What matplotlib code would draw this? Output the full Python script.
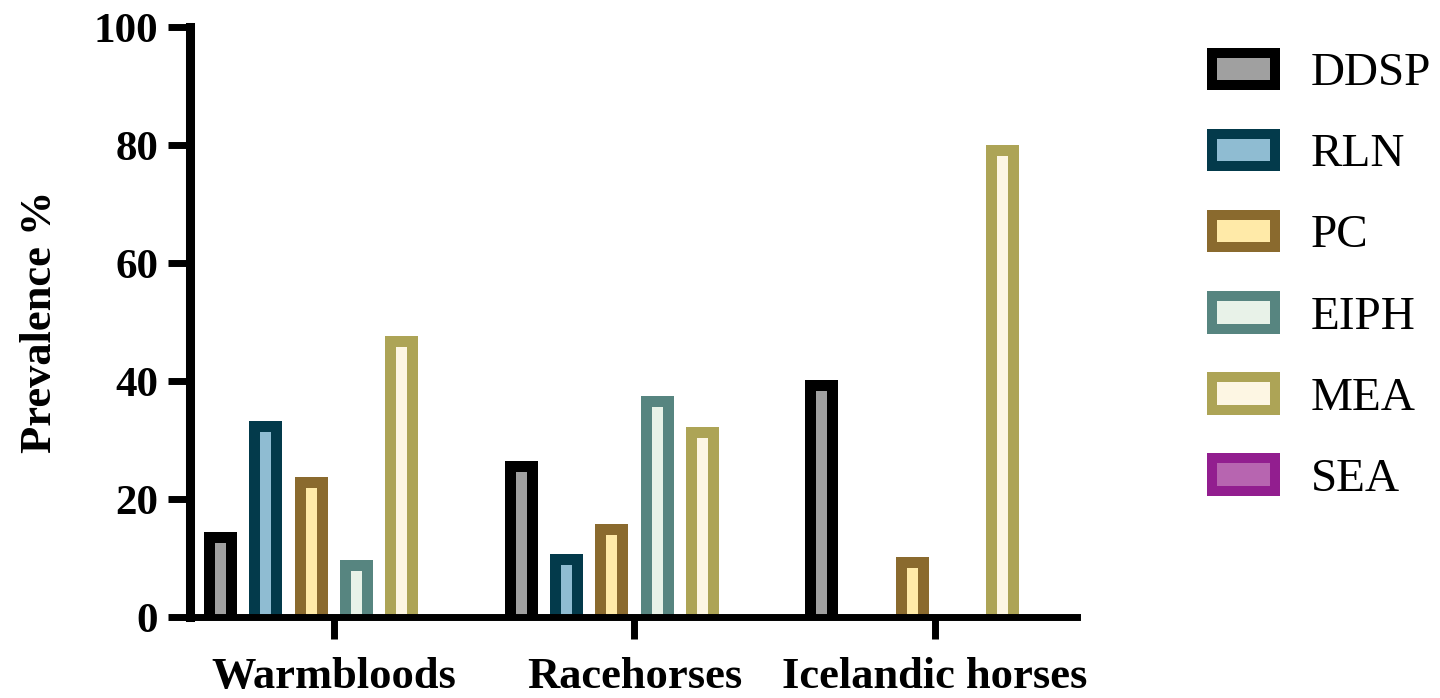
import matplotlib
matplotlib.use("Agg")
import matplotlib.pyplot as plt
from matplotlib.patches import Rectangle
from matplotlib.legend_handler import HandlerBase
import numpy as np

groups = ["Warmbloods", "Racehorses", "Icelandic horses"]
series = ["DDSP", "RLN", "PC", "EIPH", "MEA", "SEA"]
ddsp = [14.4, 26.4, 40.2]
rln = [33.3, 10.7, 0]
pc = [23.7, 15.8, 10.1]
eiph = [9.6, 37.4, 0]
mea = [47.6, 32.2, 80.0]
sea = [0, 0, 0]
values = [ddsp, rln, pc, eiph, mea, sea]
edge_colors = ["#000000", "#033a4b", "#8a6a2e", "#578580", "#ada456", "#921e8f"]
fill_colors = ["#a0a0a0", "#8fbcd2", "#ffeaa8", "#e8f2e8", "#fdf6e3", "#b765b0"]
yticks = [0, 20, 40, 60, 80, 100]

plt.rcParams['font.family'] = ['Liberation Serif', 'DejaVu Serif']

fig = plt.figure(figsize=(14.4, 6.98), dpi=100)
ax = fig.add_axes([190/1440, 81/698, 887/1440, 590/698])

x = np.arange(len(groups))
slot = 0.1505
w_outer = 0.1096
w_inner = 0.0365
inset_y = 1.86

for i, (vals, ec, fc) in enumerate(zip(values, edge_colors, fill_colors)):
    pos = x + (i - 2.5) * slot
    vals = np.array(vals, dtype=float)
    ax.bar(pos, vals, width=w_outer, color=ec, linewidth=0, zorder=2)
    inner_h = np.where(vals > inset_y, vals - inset_y, 0)
    ax.bar(pos, inner_h, width=w_inner, color=fc, linewidth=0, zorder=3)

ax.set_xlim(-0.478, 2.472)
ax.set_ylim(0, 100)
ax.set_yticks(yticks)
ax.set_yticklabels([str(t) for t in yticks], fontsize=31, fontweight='bold')
ax.set_xticks(x)
ax.set_xticklabels(groups, fontsize=32, fontweight='bold')
ax.set_ylabel("Prevalence %", fontsize=32, fontweight='bold', labelpad=24)

for s in ['top', 'right']:
    ax.spines[s].set_visible(False)
ax.spines['left'].set_linewidth(6.5)
ax.spines['bottom'].set_linewidth(5)
ax.spines['left'].set_zorder(5)
ax.spines['bottom'].set_zorder(5)
ax.tick_params(axis='both', length=16, width=5, direction='out', color='black')
ax.tick_params(axis='x', pad=13)
ax.tick_params(axis='y', pad=7)


class BoxHandler(HandlerBase):
    def __init__(self, ec, fc):
        super().__init__()
        self.ec = ec
        self.fc = fc

    def create_artists(self, legend, orig_handle, xdescent, ydescent,
                       width, height, fontsize, trans):
        b = 10 * 72 / 100.0  # border in points
        outer = Rectangle((-xdescent, -ydescent), width, height,
                          facecolor=self.ec, edgecolor='none', transform=trans)
        inner = Rectangle((-xdescent + b, -ydescent + b), width - 2 * b, height - 2 * b,
                          facecolor=self.fc, edgecolor='none', transform=trans)
        return [outer, inner]


handles = [Rectangle((0, 0), 1, 1) for _ in series]
hmap = {h: BoxHandler(ec, fc) for h, ec, fc in zip(handles, edge_colors, fill_colors)}
leg = fig.legend(handles, series, handler_map=hmap, loc='upper left',
                 bbox_to_anchor=(1174/1440, 1 - 15/698), frameon=False,
                 fontsize=34, handlelength=1.55, handleheight=1.0,
                 handletextpad=0.65, labelspacing=0.715, borderpad=0.2)

fig.savefig("out.png", dpi=100)
